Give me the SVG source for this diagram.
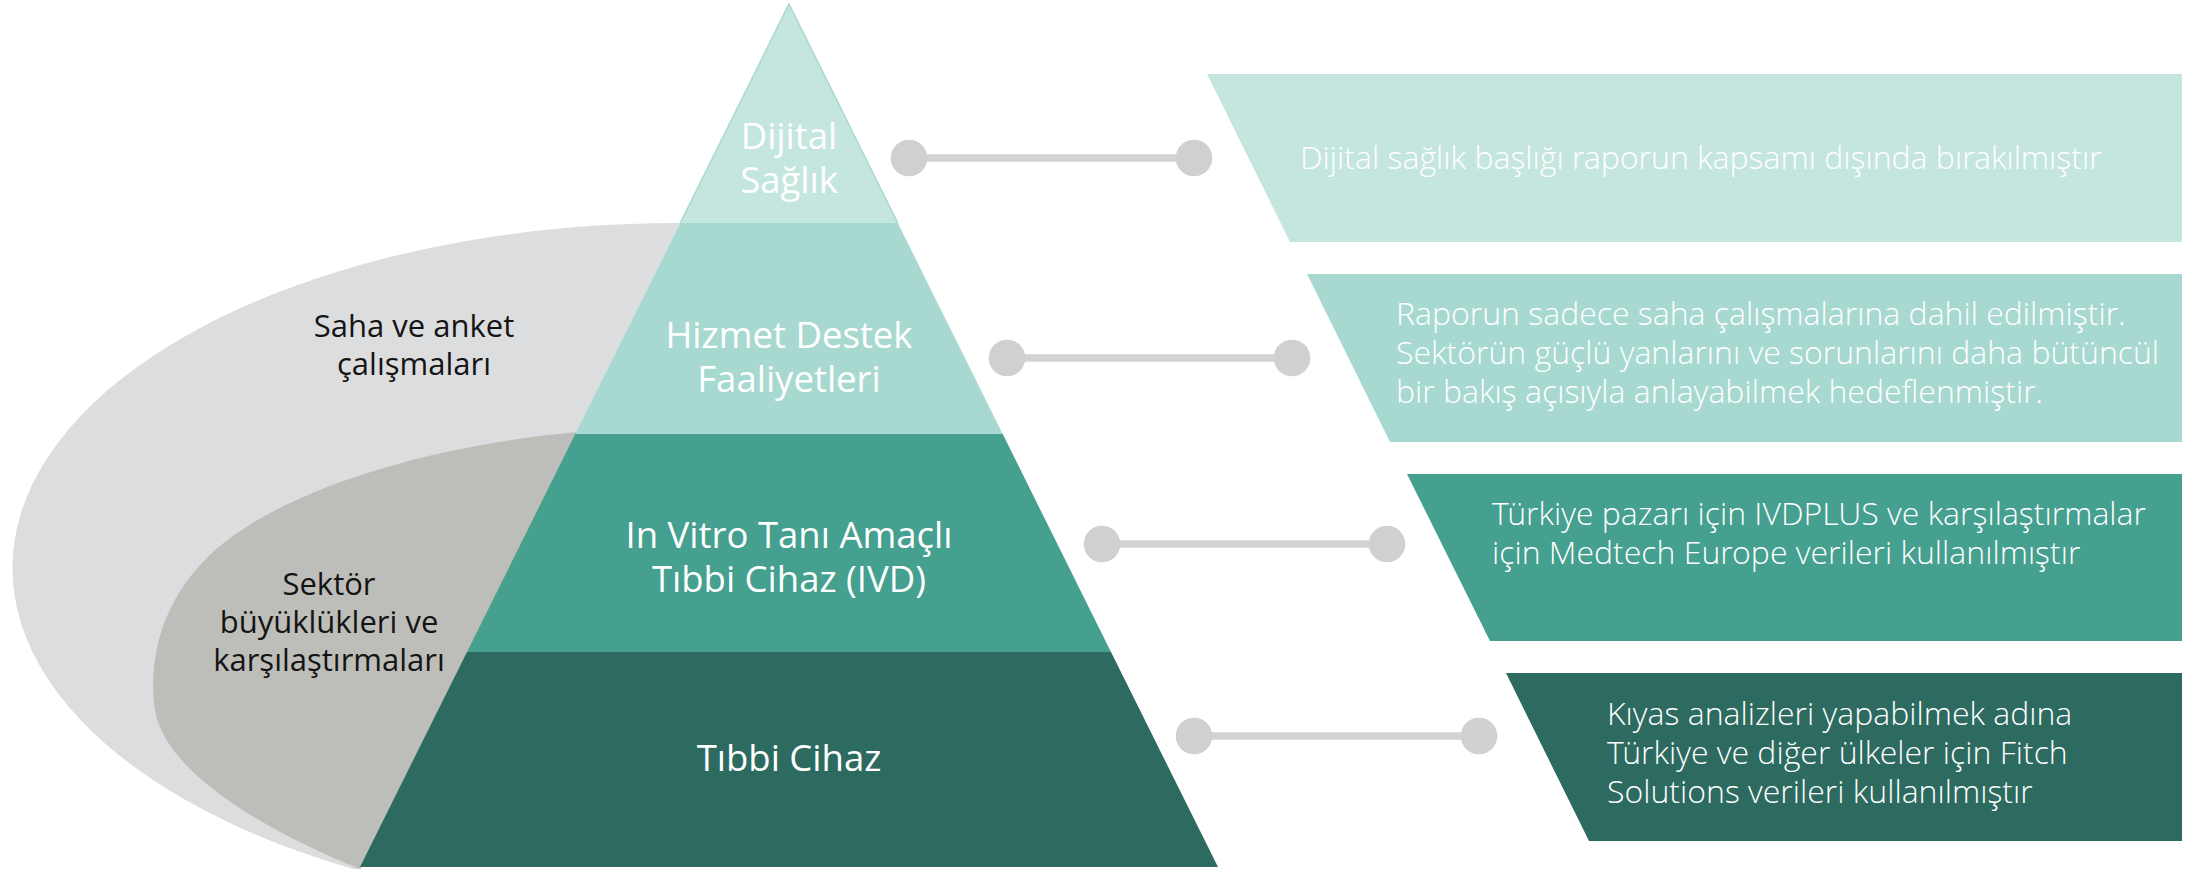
<svg xmlns="http://www.w3.org/2000/svg" width="2201" height="869" viewBox="0 0 2201 869">
  <defs>
    <style>
      .lbl { font-family: "Open Sans", "Liberation Sans", sans-serif; font-size: 36.5px; fill: #ffffff; text-anchor: middle; font-weight: 400; }
      .gray { font-family: "Open Sans", "Liberation Sans", sans-serif; font-size: 31px; fill: #141414; text-anchor: middle; font-weight: 400; }
      .desc { font-family: "Open Sans Light", "Open Sans", "Liberation Sans", sans-serif; font-size: 32px; fill: #ffffff; font-weight: 300; }
      .dot { fill: #d0d0cf; }
      .bar { stroke: #d3d3d3; stroke-width: 7.5; fill: none; }
      .c1 { fill: #c5e6df; }
      .c2 { fill: #a8d9d1; }
      .c3 { fill: #45a090; }
      .c4 { fill: #2d6b60; }
    </style>
  </defs>
  <rect width="2201" height="869" fill="#ffffff"/>

  <g id="scope-outer">
    <path d="M 680,223 A 666 345 0 0 0 360,871 L 680,223 Z" fill="#dcdddf"/>
    <text class="gray" x="414" y="337">Saha ve anket</text>
    <text class="gray" x="414" y="375">çalışmaları</text>
  </g>

  <g id="scope-inner">
    <path d="M 578,432 C 440,444 290,485 215,550 C 160,600 148,660 155,710 C 165,775 275,835 360,869 L 578,432 Z" fill="#bdbdb9"/>
    <text class="gray" x="329" y="595">Sektör</text>
    <text class="gray" x="329" y="633">büyüklükleri ve</text>
    <text class="gray" x="329" y="671">karşılaştırmaları</text>
  </g>

  <g id="layer-tibbi-cihaz">
    <polygon class="c4" points="467,652 1111,652 1218,867 360,867"/>
    <text class="lbl" x="789" y="771">Tıbbi Cihaz</text>
  </g>
  <g id="layer-ivd">
    <polygon class="c3" points="575.3,434 1002.7,434 1111,652 467,652"/>
    <text class="lbl" x="789" y="548">In Vitro Tanı Amaçlı</text>
    <text class="lbl" x="789" y="592">Tıbbi Cihaz (IVD)</text>
  </g>
  <g id="layer-hizmet">
    <polygon class="c2" points="680.2,223 897.8,223 1002.7,434 575.3,434"/>
    <text class="lbl" x="789" y="348">Hizmet Destek</text>
    <text class="lbl" x="789" y="392">Faaliyetleri</text>
  </g>
  <g id="layer-dijital">
    <polygon class="c1" points="789,4 897.8,223 680.2,223"/>
    <polyline points="680.2,223 789,4 897.8,223" fill="none" stroke="#a8d9d1" stroke-width="1.5"/>
    <text class="lbl" x="789" y="149">Dijital</text>
    <text class="lbl" x="789" y="193">Sağlık</text>
  </g>

  <g id="connectors">
    <line class="bar" x1="909" y1="158" x2="1194" y2="158"/>
    <circle class="dot" cx="909" cy="158" r="18.3"/>
    <circle class="dot" cx="1194" cy="158" r="18.3"/>
    <line class="bar" x1="1007" y1="358" x2="1292" y2="358"/>
    <circle class="dot" cx="1007" cy="358" r="18.3"/>
    <circle class="dot" cx="1292" cy="358" r="18.3"/>
    <line class="bar" x1="1102" y1="544" x2="1387" y2="544"/>
    <circle class="dot" cx="1102" cy="544" r="18.3"/>
    <circle class="dot" cx="1387" cy="544" r="18.3"/>
    <line class="bar" x1="1194" y1="736" x2="1479" y2="736"/>
    <circle class="dot" cx="1194" cy="736" r="18.3"/>
    <circle class="dot" cx="1479" cy="736" r="18.3"/>
  </g>

  <g id="box-dijital">
    <polygon class="c1" points="1207,74 2182,74 2182,242 1290,242"/>
    <text class="desc" x="1300" y="169">Dijital sağlık başlığı raporun kapsamı dışında bırakılmıştır</text>
  </g>
  <g id="box-hizmet">
    <polygon class="c2" points="1307,274 2182,274 2182,442 1390,442"/>
    <text class="desc" x="1396" y="325">Raporun sadece saha çalışmalarına dahil edilmiştir.</text>
    <text class="desc" x="1396" y="364">Sektörün güçlü yanlarını ve sorunlarını daha bütüncül</text>
    <text class="desc" x="1396" y="403">bir bakış açısıyla anlayabilmek hedeflenmiştir.</text>
  </g>
  <g id="box-ivd">
    <polygon class="c3" points="1407,474 2182,474 2182,641 1490,641"/>
    <text class="desc" x="1492" y="525">Türkiye pazarı için IVDPLUS ve karşılaştırmalar</text>
    <text class="desc" x="1492" y="564">için Medtech Europe verileri kullanılmıştır</text>
  </g>
  <g id="box-tibbi">
    <polygon class="c4" points="1506,673 2182,673 2182,841 1589,841"/>
    <text class="desc" x="1607" y="725">Kıyas analizleri yapabilmek adına</text>
    <text class="desc" x="1607" y="764">Türkiye ve diğer ülkeler için Fitch</text>
    <text class="desc" x="1607" y="803">Solutions verileri kullanılmıştır</text>
  </g>
</svg>
